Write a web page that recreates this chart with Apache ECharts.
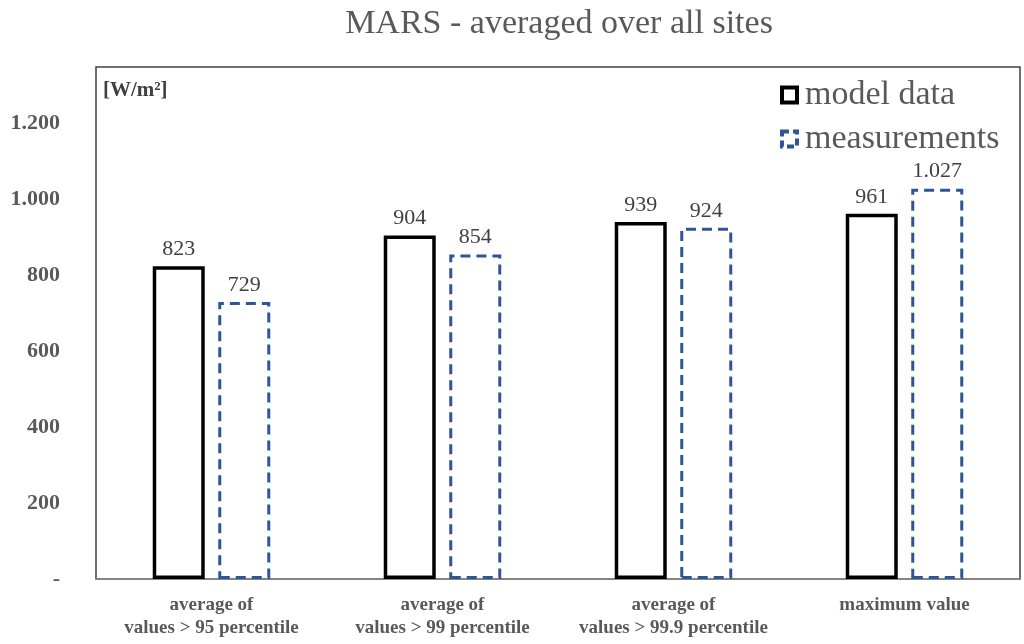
<!DOCTYPE html>
<html><head><meta charset="utf-8">
<script src="https://cdn.jsdelivr.net/npm/echarts@6/dist/echarts.min.js"></script>
<style>html,body{margin:0;padding:0;background:#fff}#c{width:1024px;height:644px}</style>
</head><body><div id="c"></div>
<script>
var categories = ['average of\nvalues > 95 percentile', 'average of\nvalues > 99 percentile', 'average of\nvalues > 99.9 percentile', 'maximum value'];
var modelData = [823, 904, 939, 961];
var measurements = [729, 854, 924, 1027];
var yTicks = [0, 200, 400, 600, 800, 1000, 1200];

function fmt(v) {
  if (v === 0) return '-';
  var s = String(Math.round(v));
  return s.replace(/\B(?=(\d{3})+(?!\d))/g, '.');
}
var serif = '"Liberation Serif", "Times New Roman", serif';
var chart = echarts.init(document.getElementById('c'));
chart.setOption({
  animation: false,
  title: {
    text: 'MARS - averaged over all sites', left: 554, top: 2, textAlign: 'center',
    textStyle: { fontFamily: serif, fontSize: 34, fontWeight: 'normal', color: '#595959' }
  },
  legend: {
    orient: 'vertical', left: 775, top: 73, itemWidth: 15, itemHeight: 15, itemGap: 10,
    icon: 'rect',
    textStyle: { fontFamily: serif, fontSize: 34, color: '#595959', padding: [0, 0, 0, 3] },
    data: [
      { name: 'model data', itemStyle: { borderWidth: 4, borderColor: '#000000' } },
      { name: 'measurements', itemStyle: { borderWidth: 4, borderColor: '#2f5597', borderType: [7, 4] } }
    ]
  },
  grid: { left: 96, right: 4, top: 67, bottom: 65, show: true, borderColor: '#404040', borderWidth: 1.5 },
  graphic: [{ type: 'text', left: 103, top: 80,
    style: { text: '[W/m²]', font: 'bold 21px ' + serif, fill: '#404040' } }],
  xAxis: {
    type: 'category', data: categories,
    axisLine: { lineStyle: { color: '#8c8c8c', width: 1.5 } }, axisTick: { show: false },
    axisLabel: { interval: 0, fontFamily: serif, fontWeight: 'bold', fontSize: 19, color: '#595959', margin: 15, lineHeight: 23 }
  },
  yAxis: {
    type: 'value', min: 0, max: 1347, interval: 200,
    splitLine: { show: false }, axisLine: { show: false }, axisTick: { show: false },
    axisLabel: {
      fontFamily: serif, fontWeight: 'bold', fontSize: 22, color: '#595959', margin: 36,
      formatter: function (v) { return yTicks.indexOf(v) >= 0 ? fmt(v) : ''; }
    }
  },
  series: [{
    name: 'model data', type: 'bar', data: modelData, barWidth: 52, barGap: '26%',
    itemStyle: { color: '#ffffff', borderColor: '#000000', borderWidth: 3.5 },
    label: { show: true, position: 'top', distance: 6, fontFamily: serif, fontSize: 22, color: '#404040', formatter: function (p) { return fmt(p.value); } }
  }, {
    name: 'measurements', type: 'bar', data: measurements, barWidth: 52,
    itemStyle: { color: '#ffffff', borderColor: '#2f5597', borderWidth: 3, borderType: [10, 6] },
    label: { show: true, position: 'top', distance: 6, fontFamily: serif, fontSize: 22, color: '#404040', formatter: function (p) { return fmt(p.value); } }
  }]
});
</script></body></html>
